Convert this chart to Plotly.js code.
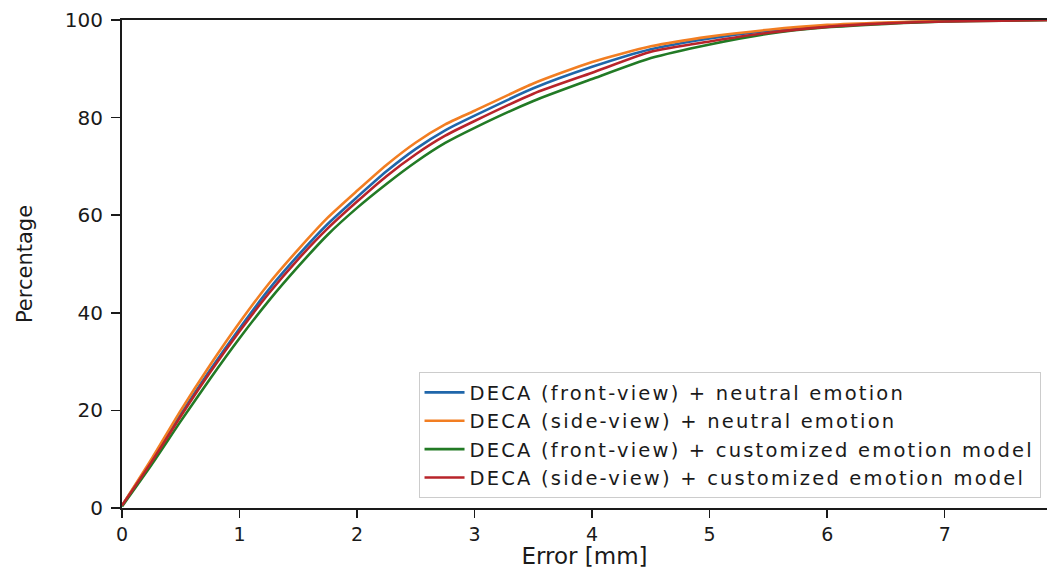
<!DOCTYPE html>
<html>
<head>
<meta charset="utf-8">
<script src="https://cdn.plot.ly/plotly-3.0.1.min.js"></script>
<style>
html,body{margin:0;padding:0;background:#fff;}
#chart{width:1047px;height:569px;}
.legendtext{letter-spacing:2.2px;}
</style>
</head>
<body>
<div id="chart"></div>
<script>
const errorMM = [0, 0.25, 0.5, 0.75, 1, 1.25, 1.5, 1.75, 2, 2.25, 2.5, 2.75, 3, 3.5, 4, 4.5, 5, 5.5, 6, 6.5, 7, 7.9];
const frontNeutral = [0.5, 9.6, 19.2, 28.3, 36.8, 44.8, 51.8, 58.2, 63.7, 69.0, 73.6, 77.4, 80.4, 86.0, 90.4, 94.0, 96.2, 97.8, 98.8, 99.4, 99.8, 100];
const sideNeutral = [0.5, 10.0, 20.0, 29.3, 38.0, 46.0, 53.0, 59.5, 65.0, 70.3, 74.9, 78.6, 81.4, 87.0, 91.4, 94.6, 96.6, 98.0, 99.0, 99.5, 99.8, 100];
const frontCustom = [0.3, 8.8, 17.8, 26.5, 34.8, 42.5, 49.5, 56.0, 61.5, 66.4, 70.9, 74.8, 77.9, 83.4, 87.9, 92.2, 95.0, 97.2, 98.5, 99.2, 99.7, 100];
const sideCustom = [0.5, 9.4, 18.8, 27.8, 36.2, 44.0, 51.0, 57.3, 62.8, 68.0, 72.5, 76.3, 79.3, 84.9, 89.2, 93.5, 95.6, 97.4, 98.6, 99.3, 99.7, 100];
const seriesNames = [
  "DECA (front-view) + neutral emotion",
  "DECA (side-view) + neutral emotion",
  "DECA (front-view) + customized emotion model",
  "DECA (side-view) + customized emotion model"
];
const xTicks = [0, 1, 2, 3, 4, 5, 6, 7];
const yTicks = [0, 20, 40, 60, 80, 100];

const colors = ["#1f66aa", "#f27e22", "#227a25", "#b8242a"];
const ys = [frontNeutral, sideNeutral, frontCustom, sideCustom];
const data = ys.map((y, i) => ({
  x: errorMM, y: y, type: "scatter", mode: "lines", name: seriesNames[i],
  line: {color: colors[i], width: 2.6, shape: "spline", smoothing: 0.6}
}));

const font = "DejaVu Sans, sans-serif";
const layout = {
  width: 1047, height: 569,
  margin: {l: 122, r: 0, t: 20, b: 61},
  paper_bgcolor: "#fff", plot_bgcolor: "#fff",
  showlegend: true,
  legend: {
    x: 0.993, xanchor: "right", y: 0.02, yanchor: "bottom",
    bgcolor: "rgba(255,255,255,0.9)", bordercolor: "#cccccc", borderwidth: 1,
    font: {family: font, size: 19.5, color: "#1a1a1a"},
    itemwidth: 40,
    tracegroupgap: 0
  },
  xaxis: {
    range: [0, 7.87], tickvals: xTicks, ticktext: xTicks.map(String),
    showgrid: false, zeroline: false,
    showline: true, linecolor: "#1a1a1a", linewidth: 2, mirror: true,
    ticks: "outside", ticklen: 8, tickwidth: 1.5, tickcolor: "#1a1a1a",
    tickfont: {family: font, size: 19, color: "#1a1a1a"},
    title: {text: "Error [mm]", font: {family: font, size: 23, color: "#1a1a1a"}, standoff: 12}
  },
  yaxis: {
    range: [0, 100], tickvals: yTicks, ticktext: yTicks.map(String),
    showgrid: false, zeroline: false,
    showline: true, linecolor: "#1a1a1a", linewidth: 2,
    ticks: "outside", ticklen: 9, tickwidth: 1.5, tickcolor: "#1a1a1a",
    ticklabelstandoff: 4,
    tickfont: {family: font, size: 20, color: "#1a1a1a"},
    title: {text: "Percentage", font: {family: font, size: 21, color: "#1a1a1a"}, standoff: 26}
  }
};
Plotly.newPlot("chart", data, layout, {displayModeBar: false, staticPlot: true});
</script>
</body>
</html>
